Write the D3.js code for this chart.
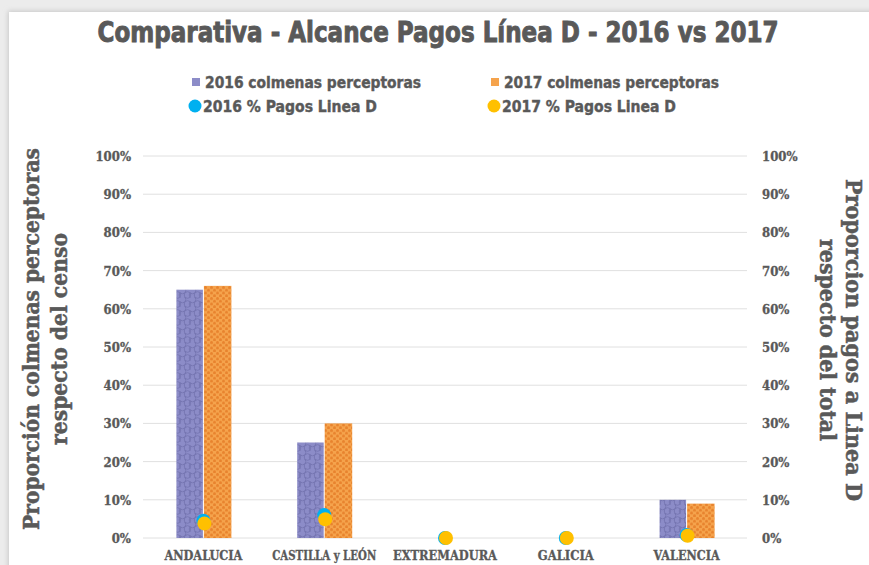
<!DOCTYPE html>
<html><head><meta charset="utf-8">
<script src="https://cdn.jsdelivr.net/npm/d3@7"></script>
<style>body{margin:0;background:#fff}svg{display:block}</style>
</head><body>
<script>
const categories = ["ANDALUCIA","CASTILLA y LEÓN","EXTREMADURA","GALICIA","VALENCIA"];
const colmenas2016 = [0.65, 0.25, 0, 0, 0.10];
const colmenas2017 = [0.66, 0.30, 0, 0, 0.09];
const pagos2016 = [0.045, 0.06, 0, 0, 0.008];
const pagos2017 = [0.038, 0.049, 0, 0, 0.006];
const ticks = [0,0.1,0.2,0.3,0.4,0.5,0.6,0.7,0.8,0.9,1.0];
const seriesNames = ["2016 colmenas perceptoras","2017 colmenas perceptoras","2016 % Pagos Linea D","2017 % Pagos Linea D"];

const W=869,H=565;
const svg=d3.select("body").append("svg").attr("width",W).attr("height",H);
const defs=svg.append("defs");
const txt="#595959";
const condensed="'Liberation Sans Narrow','DejaVu Sans Condensed',sans-serif";
const serif="'DejaVu Serif Condensed','DejaVu Serif','Liberation Serif',serif";

// frame
svg.append("rect").attr("width",W).attr("height",H).attr("fill","#ececec");
const sh=defs.append("filter").attr("id","sh").attr("x","-5%").attr("y","-5%").attr("width","110%").attr("height","110%");
sh.append("feGaussianBlur").attr("stdDeviation",2.5);
svg.append("rect").attr("x",8).attr("y",11).attr("width",W).attr("height",H).attr("fill","#c8c8c8").attr("filter","url(#sh)");
svg.append("rect").attr("x",9).attr("y",12).attr("width",W).attr("height",H).attr("fill","#fff");

// patterns
const p1=defs.append("pattern").attr("id","pat16").attr("patternUnits","userSpaceOnUse").attr("width",10).attr("height",9);
p1.append("rect").attr("width",10).attr("height",9).attr("fill","#8c8cc8");
[[2.5,2.5],[7.5,7],[7.5,-2],[-2.5,7],[12.5,7]].forEach(([cx,cy])=>p1.append("circle").attr("cx",cx).attr("cy",cy).attr("r",3.3).attr("fill","none").attr("stroke","#7474b0").attr("stroke-width",0.9));
const p2=defs.append("pattern").attr("id","pat17").attr("patternUnits","userSpaceOnUse").attr("width",6).attr("height",5.5);
p2.append("rect").attr("width",6).attr("height",5.5).attr("fill","#f5a34c");
[[1.5,1.5],[4.5,4.25]].forEach(([cx,cy])=>p2.append("circle").attr("cx",cx).attr("cy",cy).attr("r",1.5).attr("fill","#e8832e"));

// title
svg.append("text").attr("x",438).attr("y",42).attr("text-anchor","middle")
  .attr("font-family",condensed).attr("font-weight","bold").attr("font-size",28).attr("fill",txt)
  .attr("stroke",txt).attr("stroke-width",0.9)
  .attr("textLength",681).attr("lengthAdjust","spacingAndGlyphs")
  .text("Comparativa - Alcance Pagos Línea D - 2016 vs 2017");

// scales
const x0=143,x1=747,yT=156,yB=538;
const x=d3.scaleBand().domain(categories).range([x0,x1]).padding(0);
const xs=d3.scaleBand().domain(["a","b"]).range([0,55]).padding(0);
const y=d3.scaleLinear().domain([0,1]).range([yB,yT]);

// grid
svg.append("g").selectAll("line").data(ticks).join("line")
  .attr("x1",x0).attr("x2",x1).attr("y1",d=>y(d)).attr("y2",d=>y(d))
  .attr("stroke","#e0e0e0").attr("stroke-width",1);

// axes
const fmt=d3.format(".0%");
const yl=d3.axisLeft(y).tickValues(ticks).tickFormat(fmt).tickSize(0).tickPadding(12);
const gl=svg.append("g").attr("transform",`translate(${x0},0)`).call(yl);
gl.select(".domain").remove();
gl.selectAll("text").attr("font-family",serif).attr("font-weight","bold").attr("font-size",13).attr("fill",txt).attr("stroke",txt).attr("stroke-width",0.3).attr("dy","0.35em");
const yr=d3.axisRight(y).tickValues(ticks).tickFormat(fmt).tickSize(0).tickPadding(15);
const gr=svg.append("g").attr("transform",`translate(${x1},0)`).call(yr);
gr.select(".domain").remove();
gr.selectAll("text").attr("font-family",serif).attr("font-weight","bold").attr("font-size",13).attr("fill",txt).attr("stroke",txt).attr("stroke-width",0.3).attr("dy","0.35em");
const xa=d3.axisBottom(x).tickSize(0).tickPadding(13);
const gx=svg.append("g").attr("transform",`translate(0,${yB})`).call(xa);
gx.select(".domain").remove();
gx.selectAll("text").attr("font-family",serif).attr("font-weight","bold").attr("font-size",12.5).attr("fill",txt).attr("stroke",txt).attr("stroke-width",0.3)
  .attr("lengthAdjust","spacingAndGlyphs").attr("textLength",d=>({"ANDALUCIA":78,"CASTILLA y LEÓN":104,"EXTREMADURA":104,"GALICIA":56,"VALENCIA":66})[d]);

// bars
const off=x.bandwidth()/2-27;
const gb=svg.append("g");
gb.selectAll(".b16").data(categories).join("rect")
  .attr("x",(d)=>x(d)+off+xs("a")).attr("width",xs.bandwidth()-1)
  .attr("y",(d,i)=>y(colmenas2016[i])).attr("height",(d,i)=>yB-y(colmenas2016[i]))
  .attr("fill","url(#pat16)");
gb.selectAll(".b17").data(categories).join("rect")
  .attr("x",(d)=>x(d)+off+xs("b")).attr("width",xs.bandwidth())
  .attr("y",(d,i)=>y(colmenas2017[i])).attr("height",(d,i)=>yB-y(colmenas2017[i]))
  .attr("fill","url(#pat17)");

// dots
const cx=d=>x(d)+x.bandwidth()/2;
svg.append("g").selectAll("circle").data(categories).join("circle")
  .attr("cx",cx).attr("cy",(d,i)=>y(pagos2016[i])).attr("r",7).attr("fill","#00b0f0");
svg.append("g").selectAll("circle").data(categories).join("circle")
  .attr("cx",d=>cx(d)+1).attr("cy",(d,i)=>y(pagos2017[i])).attr("r",7).attr("fill","#ffc000");

// legend
const lg=svg.append("g").attr("font-family",condensed).attr("font-weight","bold").attr("font-size",16).attr("fill",txt).attr("stroke",txt).attr("stroke-width",0.4);
const legendItems=[
  {n:seriesNames[0],x:192,y:82,t:"sq",c:"#8c8cc8",w:216},
  {n:seriesNames[1],x:491,y:82,t:"sq",c:"#f5a34c",w:215},
  {n:seriesNames[2],x:190,y:106,t:"ci",c:"#00b0f0",w:174},
  {n:seriesNames[3],x:489,y:106,t:"ci",c:"#ffc000",w:174}];
legendItems.forEach(it=>{
  if(it.t==="sq") lg.append("rect").attr("x",it.x).attr("y",it.y-4).attr("width",8).attr("height",8).attr("fill",it.c).attr("stroke","none");
  else lg.append("circle").attr("cx",it.x+5).attr("cy",it.y).attr("r",6.5).attr("fill",it.c).attr("stroke","none");
  lg.append("text").attr("x",it.x+13).attr("y",it.y+6).attr("textLength",it.w).attr("lengthAdjust","spacingAndGlyphs").text(it.n);
});

// axis titles
const at=svg.append("g").attr("font-family",serif).attr("font-weight","bold").attr("font-size",23).attr("fill",txt).attr("stroke",txt).attr("stroke-width",0.5).attr("text-anchor","middle");
at.append("text").attr("transform","translate(39,339) rotate(-90)").attr("textLength",382).attr("lengthAdjust","spacingAndGlyphs").text("Proporción colmenas perceptoras");
at.append("text").attr("transform","translate(67,339) rotate(-90)").attr("textLength",212).attr("lengthAdjust","spacingAndGlyphs").text("respecto del censo");
at.append("text").attr("transform","translate(846,340) rotate(90)").attr("textLength",322).attr("lengthAdjust","spacingAndGlyphs").text("Proporcion pagos a Linea D");
at.append("text").attr("transform","translate(820,340) rotate(90)").attr("textLength",202).attr("lengthAdjust","spacingAndGlyphs").text("respecto del total");
</script>
</body></html>
